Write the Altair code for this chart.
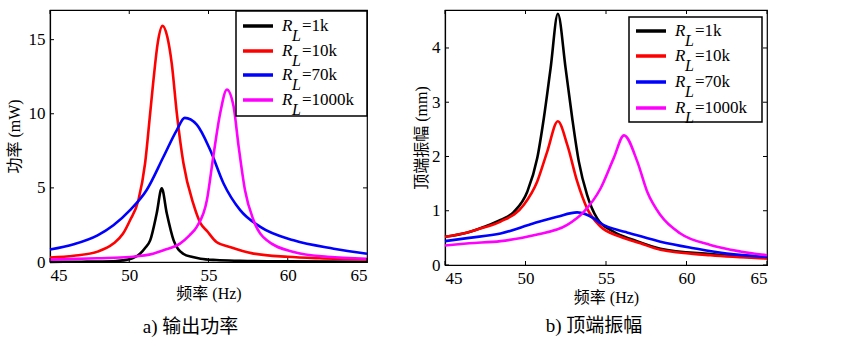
import altair as alt
import pandas as pd

SERIES = ["1k", "10k", "70k", "1000k"]
COLORS = ["#000000", "#ff0000", "#0000ff", "#ff00ff"]
X_TICKS = [45, 50, 55, 60, 65]
P_TICKS = [0, 5, 10, 15]
A_TICKS = [0, 1, 2, 3, 4]

# ---- a) output power (mW) ----
P_F_1K = [45, 47, 49, 49.6, 50.2, 50.68, 51.0, 51.32, 51.73, 52.05, 52.37, 52.8, 53.4, 54.0, 54.5, 55.5, 57, 60, 65]
P_V_1K = [0.01, 0.02, 0.05, 0.11, 0.25, 0.56, 0.95, 1.46, 3.27, 4.97, 3.27, 1.46, 0.56, 0.33, 0.22, 0.13, 0.08, 0.04, 0.02]
P_F_10K = [45, 46.5, 48, 49.0, 49.6, 50.05, 50.58, 51.0, 51.32, 51.53, 51.8, 52.1, 52.4, 52.68, 53.0, 53.42, 54.05, 54.5, 54.9, 55.5, 56.4, 57.7, 60, 62, 65]
P_V_10K = [0.3, 0.42, 0.7, 1.24, 1.9, 2.82, 4.18, 6.66, 10.05, 12.3, 14.8, 15.93, 15.2, 13.4, 10.05, 6.66, 3.9, 2.6, 2.1, 1.35, 1.0, 0.6, 0.35, 0.25, 0.18]
P_F_70K = [45, 46.5, 48, 49.0, 50.05, 51.1, 52.16, 53.0, 53.5, 54.26, 55.1, 55.95, 57.0, 58.27, 60.37, 62.9, 65]
P_V_70K = [0.84, 1.2, 1.8, 2.48, 3.5, 4.86, 7.1, 8.9, 9.72, 9.26, 7.57, 5.3, 3.5, 2.37, 1.46, 0.9, 0.56]
P_F_1000K = [45, 48, 50.05, 51.5, 52.16, 53.2, 53.8, 54.26, 54.9, 55.3, 55.74, 56.16, 56.58, 56.9, 57.3, 57.84, 58.68, 60.37, 62.5, 65]
P_V_1000K = [0.16, 0.25, 0.34, 0.55, 0.79, 1.24, 1.8, 2.37, 4.18, 7.1, 10.05, 11.63, 10.5, 7.8, 4.86, 2.82, 1.46, 0.68, 0.35, 0.22]

# ---- b) tip amplitude (mm) ----
A_F_1K = [45, 46.4, 47.4, 48.45, 49.28, 50.11, 50.73, 51.14, 51.56, 52.01, 52.49, 52.9, 53.31, 53.83, 54.45, 55.48, 56.72, 58.38, 61.48, 65]
A_V_1K = [0.52, 0.6, 0.7, 0.83, 0.98, 1.35, 1.97, 2.71, 3.63, 4.63, 3.63, 2.71, 1.91, 1.29, 0.86, 0.61, 0.46, 0.3, 0.2, 0.13]
A_F_10K = [45, 46.4, 47.4, 48.45, 49.9, 50.73, 51.35, 52.01, 52.6, 53.21, 53.83, 54.66, 55.9, 57.14, 58.38, 61.48, 65]
A_V_10K = [0.52, 0.6, 0.69, 0.8, 1.11, 1.54, 2.09, 2.65, 2.21, 1.54, 1.04, 0.71, 0.52, 0.4, 0.28, 0.18, 0.12]
A_F_70K = [45, 46.5, 48.45, 50.52, 51.97, 53.21, 54.24, 54.66, 55.9, 56.3, 58.38, 60.45, 62.5, 65]
A_V_70K = [0.44, 0.5, 0.58, 0.77, 0.89, 0.97, 0.86, 0.77, 0.63, 0.6, 0.43, 0.31, 0.21, 0.15]
A_F_1000K = [45, 46.5, 48.45, 50.52, 52.59, 53.62, 54.66, 55.48, 56.12, 56.94, 57.56, 58.38, 59.62, 61.48, 63.34, 65]
A_V_1000K = [0.36, 0.4, 0.44, 0.55, 0.74, 0.98, 1.41, 1.97, 2.39, 1.91, 1.35, 0.92, 0.58, 0.37, 0.25, 0.18]

LEG_LABELS = ["=1k", "=10k", "=70k", "=1000k"]

NUMFONT = "Liberation Serif"
LEGFONT = "Liberation Serif"
CJKFONT = "Liberation Serif, Noto Sans CJK SC"


def long_df(pairs):
    rows = []
    for name, fs, vs in pairs:
        for f, v in zip(fs, vs):
            rows.append({"series": name, "f": f, "v": v})
    return pd.DataFrame(rows)


power_df = long_df([("1k", P_F_1K, P_V_1K), ("10k", P_F_10K, P_V_10K),
                    ("70k", P_F_70K, P_V_70K), ("1000k", P_F_1000K, P_V_1000K)])
amp_df = long_df([("1k", A_F_1K, A_V_1K), ("10k", A_F_10K, A_V_10K),
                  ("70k", A_F_70K, A_V_70K), ("1000k", A_F_1000K, A_V_1000K)])


def panel(df, ymax, yticks, ytitle, W, H, box, ly, caption, cap_offset, cap_dx,
          xtitle_pad, ytitle_pad):
    xs = alt.Scale(domain=[45, 65], nice=False, zero=False)
    ys = alt.Scale(domain=[0, ymax], nice=False)
    xaxis = alt.Axis(values=X_TICKS, title="频率 (Hz)", format="d", ticks=False,
                     labelPadding=5, titlePadding=xtitle_pad, grid=False)
    yaxis = alt.Axis(values=yticks, title=ytitle, format="d", ticks=False,
                     labelPadding=5, titlePadding=ytitle_pad, grid=False)
    color = alt.Color("series:N", scale=alt.Scale(domain=SERIES, range=COLORS), legend=None)

    lines = alt.Chart(df).mark_line(strokeWidth=2.6, interpolate="monotone").encode(
        x=alt.X("f:Q", scale=xs, axis=xaxis),
        y=alt.Y("v:Q", scale=ys, axis=yaxis),
        color=color,
    )
    xt = pd.DataFrame({"f": X_TICKS})
    yt = pd.DataFrame({"v": yticks})
    tk_b = alt.Chart(xt).mark_rule(color="black", strokeWidth=1).encode(
        x=alt.X("f:Q", scale=xs, axis=xaxis), y=alt.value(H), y2=alt.value(H - 4))
    tk_t = alt.Chart(xt).mark_rule(color="black", strokeWidth=1).encode(
        x=alt.X("f:Q", scale=xs, axis=xaxis), y=alt.value(0), y2=alt.value(4))
    tk_l = alt.Chart(yt).mark_rule(color="black", strokeWidth=1).encode(
        y=alt.Y("v:Q", scale=ys, axis=yaxis), x=alt.value(0), x2=alt.value(4))
    tk_r = alt.Chart(yt).mark_rule(color="black", strokeWidth=1).encode(
        y=alt.Y("v:Q", scale=ys, axis=yaxis), x=alt.value(W), x2=alt.value(W - 4))

    leg = pd.DataFrame({"series": SERIES, "label": LEG_LABELS, "ly": ly})
    bx0, bx1, by0, by1 = box
    rect = alt.Chart(pd.DataFrame({"a": [0]})).mark_rect(
        fill="white", stroke="black", strokeWidth=1.5).encode(
        x=alt.value(bx0), x2=alt.value(bx1), y=alt.value(by0), y2=alt.value(by1))
    leg_lines = alt.Chart(leg).mark_rule(strokeWidth=3.5).encode(
        x=alt.value(bx0 + 7), x2=alt.value(bx0 + 37),
        y=alt.Y("ly:Q", scale=None), color=color)
    txt_r = alt.Chart(leg).mark_text(font=LEGFONT, fontSize=17, fontStyle="italic",
                                     align="left", baseline="middle").encode(
        x=alt.value(bx0 + 46), y=alt.Y("ly:Q", scale=None), text=alt.value("R"))
    txt_l = alt.Chart(leg).mark_text(font=LEGFONT, fontSize=16, fontStyle="italic",
                                     align="left", baseline="middle", dy=10).encode(
        x=alt.value(bx0 + 56), y=alt.Y("ly:Q", scale=None), text=alt.value("L"))
    txt_v = alt.Chart(leg).mark_text(font=LEGFONT, fontSize=17,
                                     align="left", baseline="middle").encode(
        x=alt.value(bx0 + 66), y=alt.Y("ly:Q", scale=None), text="label:N")

    return alt.layer(lines, tk_b, tk_t, tk_l, tk_r, rect, leg_lines, txt_r, txt_l, txt_v).properties(
        width=W, height=H,
        title=alt.TitleParams(caption, orient="bottom", frame="group", anchor="middle",
                              font=CJKFONT, fontSize=19, fontWeight="normal",
                              offset=cap_offset, dx=cap_dx),
    )


left = panel(power_df, 17, P_TICKS, "功率 (mW)", 317, 252,
             (186, 317, 1, 106), [16, 41, 65, 90], "a)  输出功率", 17, -18, 2, 6)
right = panel(amp_df, 4.7, A_TICKS, "顶端振幅 (mm)", 322, 255,
              (184, 317, 7, 112), [21, 46, 72, 98], "b)  顶端振幅", 12, -12, 3, 2)

chart = alt.hconcat(left, right, spacing=39).properties(
    padding={"left": 5, "top": 7, "right": 0, "bottom": 0}
).configure_view(stroke="black", strokeWidth=1.2).configure_axis(
    labelFont=NUMFONT, titleFont=CJKFONT, labelFontSize=17, titleFontSize=16,
    titleFontWeight="normal", labelColor="black", titleColor="black",
    domainColor="black", domainWidth=1.2,
).configure_concat(spacing=39)

chart.save("out.html", embed_options={"renderer": "svg", "actions": False})
